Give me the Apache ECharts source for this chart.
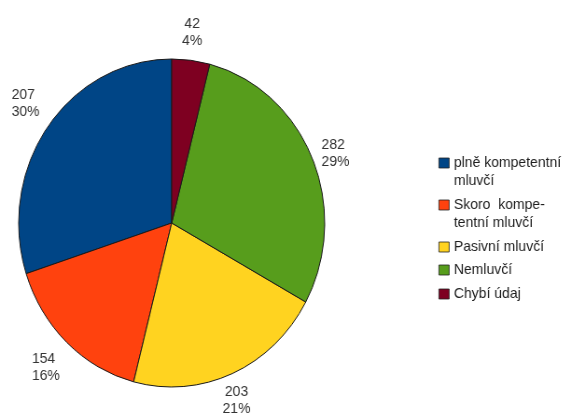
<!DOCTYPE html>
<html>
<head>
<meta charset="utf-8">
<script src="https://cdn.jsdelivr.net/npm/echarts@6/dist/echarts.min.js"></script>
<style>
html,body{margin:0;padding:0;background:#fff;overflow:hidden;width:579px;height:415px;}
#c{width:621px;height:415px;transform:scaleX(0.933);transform-origin:0 0;}
</style>
</head>
<body>
<div id="c"></div>
<script>
const categories = ['plně kompetentní mluvčí', 'Skoro kompetentní mluvčí', 'Pasivní mluvčí', 'Nemluvčí', 'Chybí údaj'];
const legendLabels = ['plně kompetentní\nmluvčí', 'Skoro  kompe-\ntentní mluvčí', 'Pasivní mluvčí', 'Nemluvčí', 'Chybí údaj'];
const counts = [207, 154, 203, 282, 42];
const percents = [30, 16, 21, 29, 4];
const colors = ['#004586', '#ff420e', '#ffd320', '#579d1c', '#7e0021'];

const chart = echarts.init(document.getElementById('c'), null, {renderer: 'canvas'});
const FONT = 'Liberation Sans, Arial, sans-serif';
const legendTops = [136, 178, 238, 261, 285];
const legends = categories.map((name, i) => {
  const twoLine = legendLabels[i].indexOf('\n') >= 0;
  return {
    data: [{name: name, itemStyle: {color: colors[i]}}],
    orient: 'vertical',
    left: 470,
    top: legendTops[i],
    padding: 0,
    itemWidth: 11,
    itemHeight: 10,
    icon: 'rect',
    selectedMode: false,
    // a leading empty line keeps the square level with the first text line
    formatter: () => (twoLine ? '\n' : '') + legendLabels[i],
    itemStyle: {borderColor: '#222', borderWidth: 0.8},
    textStyle: {fontFamily: FONT, fontSize: 15, color: '#1e1e1e', lineHeight: 18}
  };
});

const CENTER = [184, 223];
const R = 164;
const GAP = 11;

function placeLabel(p) {
  const r = p.labelRect;
  let dx = r.x + r.width / 2 - CENTER[0];
  let dy = r.y + r.height / 2 - CENTER[1];
  const len = Math.hypot(dx, dy) || 1;
  dx /= len; dy /= len;
  const ax = CENTER[0] + dx * (R + GAP);
  const ay = CENTER[1] + dy * (R + GAP);
  const fx = dx > 0.45 ? 1 : (dx < -0.45 ? -1 : 0);
  const fy = dy > 0.45 ? 1 : (dy < -0.45 ? -1 : 0);
  const out = {y: ay, verticalAlign: fy > 0 ? 'top' : (fy < 0 ? 'bottom' : 'middle')};
  if (fx === 0) { out.x = ax; out.align = 'center'; }
  else if (fx > 0) { out.x = ax; out.align = 'left'; }
  else { out.x = ax - r.width; out.align = 'left'; }
  return out;
}

chart.setOption({
  backgroundColor: '#fff',
  animation: false,
  color: colors,
  legend: legends,
  series: [{
    type: 'pie',
    center: CENTER,
    radius: R,
    startAngle: 90,
    clockwise: false,
    data: categories.map((name, i) => ({name: name, value: percents[i]})),
    itemStyle: {borderColor: '#1a1a1a', borderWidth: 1},
    emphasis: {disabled: true},
    label: {show: false},
    labelLine: {show: false}
  }, {
    // invisible ring that carries the value labels just outside the pie
    type: 'pie',
    center: CENTER,
    radius: [R, R + 54],
    startAngle: 90,
    clockwise: false,
    silent: true,
    legendHoverLink: false,
    z: 1,
    data: categories.map((name, i) => ({name: name, value: percents[i]})),
    itemStyle: {color: 'rgba(0,0,0,0)', borderWidth: 0},
    emphasis: {disabled: true},
    label: {
      show: true,
      position: 'inside',
      fontFamily: FONT,
      fontSize: 15,
      lineHeight: 17,
      color: '#333',
      formatter: (p) => counts[p.dataIndex] + '\n' + percents[p.dataIndex] + '%'
    },
    labelLayout: placeLabel,
    labelLine: {show: false}
  }]
});
</script>
</body>
</html>
